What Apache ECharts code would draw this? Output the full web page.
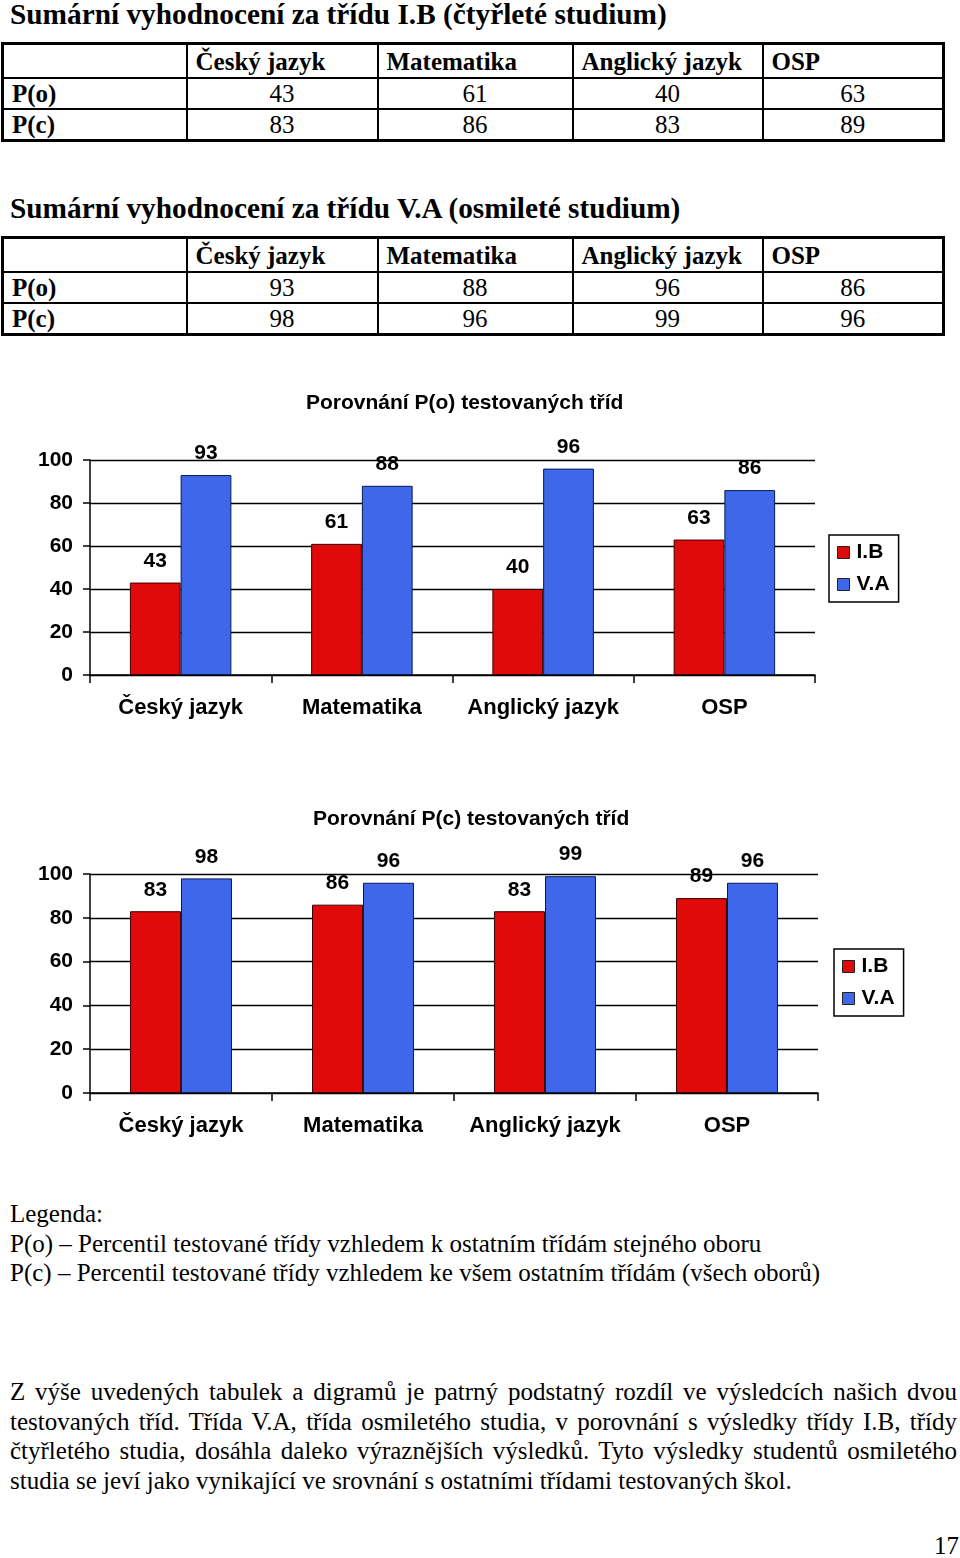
<!DOCTYPE html>
<html>
<head>
<meta charset="utf-8">
<script src="https://cdn.jsdelivr.net/npm/echarts@6/dist/echarts.min.js"></script>
<style>
  html, body { margin:0; padding:0; background:#fff; }
  body { width:960px; height:1558px; position:relative; overflow:hidden; font-family:'Liberation Serif','Times New Roman',serif; color:#000; }
  .h { position:absolute; left:10px; font-weight:bold; font-size:29.3px; line-height:29px; white-space:nowrap; }
  table.t { position:absolute; left:1px; width:941px; border-collapse:collapse; table-layout:fixed; border:3px solid #000; font-size:25px; }
  table.t td { border:2px solid #000; padding:0 8px; line-height:25px; white-space:nowrap; }
  table.t tr.hd td { height:32px; font-weight:bold; text-align:left; }
  table.t tr.rw td { height:29px; text-align:center; }
  table.t tr.rw td.lab { font-weight:bold; text-align:left; }
  .txt { position:absolute; left:10px; font-size:25px; line-height:29.6px; white-space:nowrap; }
  .pl { position:absolute; left:10px; width:947px; font-size:25px; line-height:29.7px; text-align:justify; text-align-last:justify; white-space:nowrap; }
  .pl.last { text-align-last:left; }
  .chart { position:absolute; left:0; width:960px; height:380px; }
</style>
</head>
<body>
<div class="h" style="top:0px">Sumární vyhodnocení za třídu I.B (čtyřleté studium)</div>
<table class="t" id="t1" style="top:42px"></table>
<div class="h" style="top:194px">Sumární vyhodnocení za třídu V.A (osmileté studium)</div>
<table class="t" id="t2" style="top:236px"></table>

<div class="chart" id="c1" style="top:370px"></div>
<div class="chart" id="c2" style="top:790px"></div>

<div class="txt" style="top:1199px">Legenda:<br>P(o) – Percentil testované třídy vzhledem k ostatním třídám stejného oboru<br>P(c) – Percentil testované třídy vzhledem ke všem ostatním třídám (všech oborů)</div>
<div class="pl" style="top:1377px">Z výše uvedených tabulek a digramů je patrný podstatný rozdíl ve výsledcích našich dvou</div>
<div class="pl" style="top:1407px">testovaných tříd. Třída V.A, třída osmiletého studia, v porovnání s výsledky třídy I.B, třídy</div>
<div class="pl" style="top:1436px">čtyřletého studia, dosáhla daleko výraznějších výsledků. Tyto výsledky studentů osmiletého</div>
<div class="pl last" style="top:1466px">studia se jeví jako vynikající ve srovnání s ostatními třídami testovaných škol.</div>
<div class="txt" style="top:1531px;left:934px">17</div>

<script>
// ---- data ----
const subjects = ['Český jazyk', 'Matematika', 'Anglický jazyk', 'OSP'];
const classes = ['I.B', 'V.A'];
const pO_IB = [43, 61, 40, 63];
const pC_IB = [83, 86, 83, 89];
const pO_VA = [93, 88, 96, 86];
const pC_VA = [98, 96, 99, 96];
const yTicks = [0, 20, 40, 60, 80, 100];

// ---- tables ----
const colW = [184, 191, 195, 190, 181];
function buildTable(id, po, pc) {
  const t = document.getElementById(id);
  let html = '<colgroup>' + colW.map(w => '<col style="width:' + w + 'px">').join('') + '</colgroup>';
  html += '<tr class="hd"><td></td>' + subjects.map(s => '<td>' + s + '</td>').join('') + '</tr>';
  html += '<tr class="rw"><td class="lab">P(o)</td>' + po.map(v => '<td>' + v + '</td>').join('') + '</tr>';
  html += '<tr class="rw"><td class="lab">P(c)</td>' + pc.map(v => '<td>' + v + '</td>').join('') + '</tr>';
  t.innerHTML = html;
}
buildTable('t1', pO_IB, pC_IB);
buildTable('t2', pO_VA, pC_VA);

// ---- charts ----
const FONT = "'Liberation Sans', Arial, sans-serif";
const RED = '#e00a0a', BLUE = '#3e67ea';
function makeChart(id, title, titleLeft, grid, legendPos, a, b) {
  const ch = echarts.init(document.getElementById(id), null, { renderer: 'canvas' });
  const lbl = { show: true, position: 'top', distance: 11, color: '#000', fontFamily: FONT, fontWeight: 'bold', fontSize: 21 };
  ch.setOption({
    animation: false,
    backgroundColor: 'transparent',
    title: { text: title, left: titleLeft, top: grid.titleTop, textStyle: { fontFamily: FONT, fontWeight: 'bold', fontSize: 21, color: '#000' } },
    legend: {
      data: classes, orient: 'vertical', left: legendPos.left, top: legendPos.top,
      icon: 'rect', itemWidth: 12, itemHeight: 12, itemGap: 11,
      padding: [7, 9, 7, 8], borderColor: '#000', borderWidth: 1.5,
      textStyle: { fontFamily: FONT, fontWeight: 'bold', fontSize: 21, color: '#000', padding: [0, 0, 0, 2] },
      itemStyle: { borderColor: '#222', borderWidth: 1 }
    },
    grid: { left: 90, right: grid.right, top: grid.top, bottom: grid.bottom, containLabel: false },
    xAxis: {
      type: 'category', data: subjects,
      axisLine: { lineStyle: { color: '#000', width: 1.5 } },
      axisTick: { show: true, interval: 0, length: 8, lineStyle: { color: '#000', width: 1.5 } },
      axisLabel: { interval: 0, color: '#000', fontFamily: FONT, fontWeight: 'bold', fontSize: 22, margin: 22 }
    },
    yAxis: {
      type: 'value', min: yTicks[0], max: yTicks[yTicks.length - 1], interval: yTicks[1] - yTicks[0],
      axisLine: { show: true, lineStyle: { color: '#000', width: 1.5 } },
      axisTick: { show: true, length: 7, lineStyle: { color: '#000', width: 1.5 } },
      splitLine: { show: true, lineStyle: { color: '#000', width: 1.3 } },
      axisLabel: { color: '#000', fontFamily: FONT, fontWeight: 'bold', fontSize: 21, margin: 17 }
    },
    series: [
      { name: classes[0], type: 'bar', data: a, barGap: '0%', barCategoryGap: '44%',
        itemStyle: { color: RED, borderColor: '#3a0000', borderWidth: 1 }, label: lbl },
      { name: classes[1], type: 'bar', data: b, barGap: '0%', barCategoryGap: '44%',
        itemStyle: { color: BLUE, borderColor: '#0a1a50', borderWidth: 1 }, label: lbl }
    ]
  });
}
makeChart('c1', 'Porovnání P(o) testovaných tříd', 301,
  { titleTop: 18, top: 90, bottom: 75, right: 145 }, { left: 829, top: 165 }, pO_IB, pO_VA);
makeChart('c2', 'Porovnání P(c) testovaných tříd', 308,
  { titleTop: 14, top: 84, bottom: 77, right: 142 }, { left: 834, top: 159 }, pC_IB, pC_VA);
</script>
</body>
</html>
